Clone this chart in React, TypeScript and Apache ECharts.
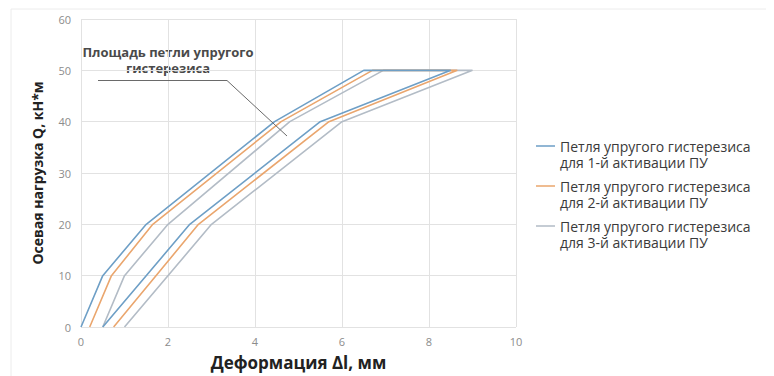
import React, { useEffect, useRef } from "react";
import * as echarts from "echarts";

const seriesNames = [
  "Петля упругого гистерезиса\nдля 1-й активации ПУ",
  "Петля упругого гистерезиса\nдля 2-й активации ПУ",
  "Петля упругого гистерезиса\nдля 3-й активации ПУ",
];
const loadQ = [0, 10, 20, 40, 50, 50, 40, 20, 0];
const deform1 = [0, 0.5, 1.5, 4.45, 6.5, 8.5, 5.5, 2.5, 0.5];
const deform2 = [0.2, 0.7, 1.65, 4.6, 6.7, 8.65, 5.7, 2.7, 0.75];
const deform3 = [0.5, 1.0, 2.0, 4.8, 6.95, 9.0, 6.0, 3.0, 1.0];
const colors = ["#6e9fc6", "#eaa66e", "#b3bcc6"];
const annotationText = "Площадь петли упругого\nгистерезиса";

export default function App() {
  const ref = useRef<HTMLDivElement>(null);
  useEffect(() => {
    if (!ref.current) return;
    const chart = echarts.init(ref.current, undefined, { renderer: "svg" });
    const all = [deform1, deform2, deform3];
    chart.setOption({
      animation: false,
      backgroundColor: "#ffffff",
      grid: { left: 81, right: 258, top: 19, bottom: 48, containLabel: false },
      xAxis: {
        type: "value",
        min: 0,
        max: 10,
        interval: 2,
        name: "Деформация Δl, мм",
        nameLocation: "middle",
        nameGap: 27,
        nameTextStyle: { fontFamily: "Open Sans", fontWeight: "bold", fontSize: 17, color: "#222" },
        axisLine: { show: false },
        axisTick: { show: false },
        axisLabel: { color: "#8c8c8c", fontSize: 11, fontFamily: "Open Sans", margin: 9 },
        splitLine: { show: true, lineStyle: { color: "#e2e2e2", width: 1 } },
      },
      yAxis: {
        type: "value",
        min: 0,
        max: 60,
        interval: 10,
        name: "Осевая нагрузка Q, кН*м",
        nameLocation: "middle",
        nameGap: 37,
        nameTextStyle: { fontFamily: "Open Sans", fontWeight: "bold", fontSize: 14, color: "#222" },
        axisLine: { show: false },
        axisTick: { show: false },
        axisLabel: { color: "#8c8c8c", fontSize: 11, fontFamily: "Open Sans", margin: 10 },
        splitLine: { show: true, lineStyle: { color: "#e2e2e2", width: 1 } },
      },
      legend: {
        orient: "vertical",
        left: 536,
        top: 138,
        padding: 0,
        itemGap: 8,
        itemWidth: 19,
        itemHeight: 32,
        symbolKeepAspect: true,
        icon: "path://M0,0 L0.01,0 Z M0,7.3 L19,7.3 L19,8.8 L0,8.8 Z M0,32 L0.01,32 Z",
        textStyle: {
          fontFamily: "Open Sans",
          fontSize: 14,
          color: "#3a3a3a",
          lineHeight: 16,
        },
        data: seriesNames.map((n, i) => ({ name: n, itemStyle: { color: colors[i] } })),
      },
      series: all
        .map((xs, i) => ({
          name: seriesNames[i],
          type: "line",
          symbol: "none",
          z: 3 - i,
          lineStyle: { color: colors[i], width: 1.6 },
          itemStyle: { color: colors[i] },
          data: xs.map((x, k) => [x, loadQ[k]]),
        }))
        .reverse(),
      graphic: [
        {
          type: "rect",
          shape: { x: 11, y: 9, width: 770, height: 380 },
          style: { fill: "none", stroke: "#ececec", lineWidth: 1 },
          silent: true,
        },
        {
          type: "text",
          x: 168,
          y: 44,
          style: {
            text: annotationText,
            fontFamily: "Open Sans",
            fontWeight: "bold",
            fontSize: 13,
            lineHeight: 16,
            fill: "#4a4a4a",
            align: "center",
            verticalAlign: "top",
          },
        },
        {
          type: "polyline",
          shape: { points: [[98, 80.5], [227, 80.5], [287, 136]] },
          style: { stroke: "#6a6a6a", lineWidth: 1, fill: "none" },
          z: 10,
        },
      ],
    });
    return () => chart.dispose();
  }, []);
  return <div ref={ref} style={{ width: 774, height: 376, marginLeft: -8, marginTop: -8 }} />;
}
